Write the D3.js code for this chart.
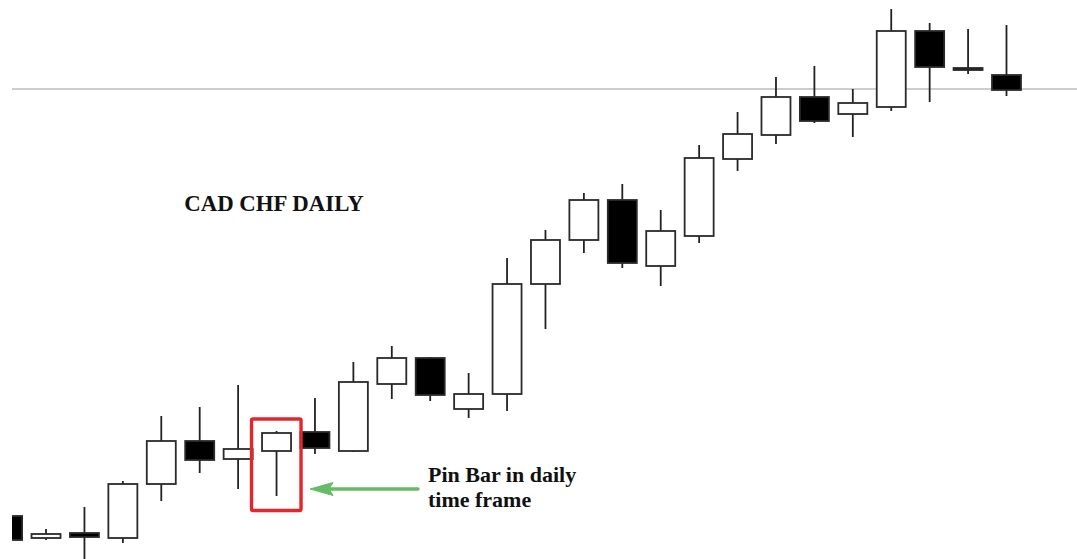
<!DOCTYPE html>
<html>
<head>
<meta charset="utf-8">
<script src="https://cdn.jsdelivr.net/npm/d3@7"></script>
<style>
  body { margin: 0; background: #fff; }
  svg { display: block; }
</style>
</head>
<body>
<svg id="chart" width="1077" height="559"></svg>
<script>
///////  data (CAD/CHF daily candles) ///////

var days  = ["D1","D2","D3","D4","D5","D6","D7","D8","D9","D10","D11","D12","D13","D14",
             "D15","D16","D17","D18","D19","D20","D21","D22","D23","D24","D25","D26","D27"];
var open  = [0.8644,0.8622,0.8627,0.8622,0.8676,0.8719,0.8701,0.8709,0.8728,0.8709,0.8776,0.8802,0.8751,0.8766,
             0.8876,0.8920,0.8960,0.8894,0.8924,0.9001,0.9025,0.9063,0.9046,0.9053,0.9129,0.9092,0.9085];
var high  = [0.8644,0.8631,0.8653,0.8679,0.8744,0.8753,0.8775,0.8729,0.8762,0.8798,0.8814,0.8803,0.8787,0.8902,
             0.8930,0.8967,0.8976,0.8950,0.9015,0.9048,0.9083,0.9094,0.9071,0.9151,0.9137,0.9131,0.9135];
var low   = [0.8620,0.8620,0.8598,0.8617,0.8659,0.8687,0.8671,0.8664,0.8706,0.8708,0.8761,0.8759,0.8742,0.8749,
             0.8831,0.8907,0.8892,0.8874,0.8917,0.8989,0.9016,0.9037,0.9023,0.9049,0.9058,0.9086,0.9064];
var close = [0.8620,0.8626,0.8623,0.8676,0.8719,0.8700,0.8711,0.8727,0.8712,0.8778,0.8802,0.8765,0.8766,0.8876,
             0.8920,0.8960,0.8897,0.8929,0.9002,0.9026,0.9063,0.9039,0.9057,0.9129,0.9093,0.9090,0.9070];
var level = 0.9071;      // horizontal resistance line
var pinIndex = 7;        // the pin bar

var candles = days.map(function(d, i) {
    return {day: d, o: open[i], h: high[i], l: low[i], c: close[i]};
});

/////// scales ///////

var svg = d3.select("#chart"),
    width = +svg.attr("width"),
    height = +svg.attr("height");

var x = d3.scaleBand().domain(days).range([-11.6, 1025.7]).padding(0);
var y = d3.scaleLinear().domain([0.86, 0.916]).range([560, 0]);

var bodyW = 29;

svg.append("defs").append("clipPath")
    .attr("id", "clip")
    .append("rect")
    .attr("x", 12).attr("y", 0)
    .attr("width", width - 12).attr("height", height);

// resistance line
svg.append("line")
    .attr("x1", 12).attr("x2", width)
    .attr("y1", y(level)).attr("y2", y(level))
    .attr("stroke", "#bdbdbd")
    .attr("stroke-width", 1.5);

var g = svg.append("g").attr("clip-path", "url(#clip)");

function cx(d) { return x(d.day) + x.bandwidth() / 2; }

// wicks
g.selectAll("line.wick")
    .data(candles)
    .enter().append("line")
    .attr("class", "wick")
    .attr("x1", cx).attr("x2", cx)
    .attr("y1", function(d) { return y(d.h); })
    .attr("y2", function(d) { return y(d.l); })
    .attr("stroke", "#222")
    .attr("stroke-width", 1.8);

// bodies
g.selectAll("rect.body")
    .data(candles)
    .enter().append("rect")
    .attr("class", "body")
    .attr("x", function(d) { return cx(d) - bodyW / 2; })
    .attr("y", function(d) { return y(Math.max(d.o, d.c)); })
    .attr("width", bodyW)
    .attr("height", function(d) { return Math.max(2, Math.abs(y(d.o) - y(d.c))); })
    .attr("fill", function(d) { return d.c >= d.o ? "#fff" : "#000"; })
    .attr("stroke", "#2a2a2a")
    .attr("stroke-width", 1.8);

/////// annotations ///////

svg.append("text")
    .attr("x", 274)
    .attr("y", 211)
    .attr("text-anchor", "middle")
    .attr("font-family", "'Liberation Serif', 'Times New Roman', serif")
    .attr("font-weight", "bold")
    .attr("font-size", "22.8px")
    .attr("fill", "#111")
    .text("CAD CHF DAILY");

var pin = candles[pinIndex];
var px = cx(pin);
var boxL = px - 25, boxR = px + 24.5;
var boxT = y(pin.h) - 12, boxB = y(pin.l) + 14.5;

svg.append("rect")
    .attr("x", boxL).attr("y", boxT)
    .attr("width", boxR - boxL).attr("height", boxB - boxT)
    .attr("rx", 1.5)
    .attr("fill", "none")
    .attr("stroke", "#e3262b")
    .attr("stroke-width", 3.4);

var arrowY = y(pin.l) - 7;
var tipX = boxR + 9;

svg.append("line")
    .attr("x1", 418).attr("x2", tipX + 18)
    .attr("y1", arrowY).attr("y2", arrowY)
    .attr("stroke", "#66bb66")
    .attr("stroke-width", 3.5)
    .attr("stroke-linecap", "round");

svg.append("path")
    .attr("d", "M" + tipX + "," + arrowY +
               " L" + (tipX + 23) + "," + (arrowY - 6.5) +
               " L" + (tipX + 19) + "," + arrowY +
               " L" + (tipX + 23) + "," + (arrowY + 6.5) + " Z")
    .attr("fill", "#66bb66")
    .attr("stroke", "#66bb66")
    .attr("stroke-width", 1)
    .attr("stroke-linejoin", "round");

var note = svg.append("text")
    .attr("font-family", "'Liberation Serif', 'Times New Roman', serif")
    .attr("font-weight", "bold")
    .attr("font-size", "22px")
    .attr("fill", "#111");
note.append("tspan").attr("x", 428).attr("y", 482).text("Pin Bar in daily");
note.append("tspan").attr("x", 428).attr("y", 507).text("time frame");
</script>
</body>
</html>
